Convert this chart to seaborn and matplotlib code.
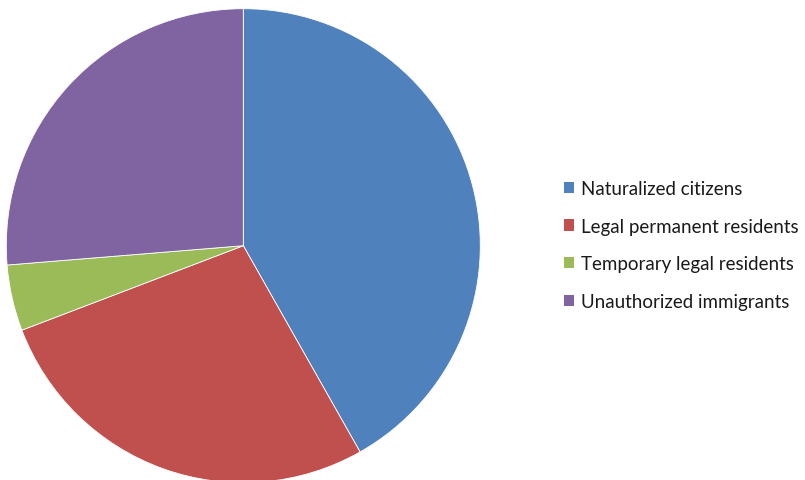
import matplotlib
matplotlib.use("Agg")
import matplotlib.pyplot as plt
import matplotlib.patches as mpatches
import seaborn as sns

categories = ["Naturalized citizens", "Legal permanent residents",
              "Temporary legal residents", "Unauthorized immigrants"]
shares = [41.8, 27.4, 4.5, 26.3]
colors = ["#4F81BD", "#C0504D", "#9BBB59", "#8064A2"]

sns.set_theme(style="white")
plt.rcParams["font.family"] = ["Lato", "DejaVu Sans"]
palette = sns.color_palette(colors)

W, H = 805, 481
fig = plt.figure(figsize=(W / 100, H / 100), dpi=100)
fig.patch.set_facecolor("white")

cx, cy, r = 243.3, 246.7, 237
ax = fig.add_axes([(cx - r) / W, (H - cy - r) / H, 2 * r / W, 2 * r / H])
ax.pie(shares, colors=palette, startangle=90, counterclock=False, radius=1,
       wedgeprops=dict(edgecolor="white", linewidth=0.6))
ax.set_xlim(-1, 1)
ax.set_ylim(-1, 1)
ax.set_aspect("equal")
ax.axis("off")

handles = [mpatches.Patch(facecolor=c, edgecolor="none", label=l)
           for c, l in zip(palette, categories)]
fig.legend(handles=handles, loc="center left",
           bbox_to_anchor=(564 / W, 1 - 246 / H), frameon=False,
           fontsize=13.5, handlelength=0.55, handleheight=0.55,
           handletextpad=0.35, labelspacing=1.1, borderpad=0, borderaxespad=0,
           labelcolor="#1a1a1a")

fig.savefig("out.png", dpi=100, facecolor="white")
